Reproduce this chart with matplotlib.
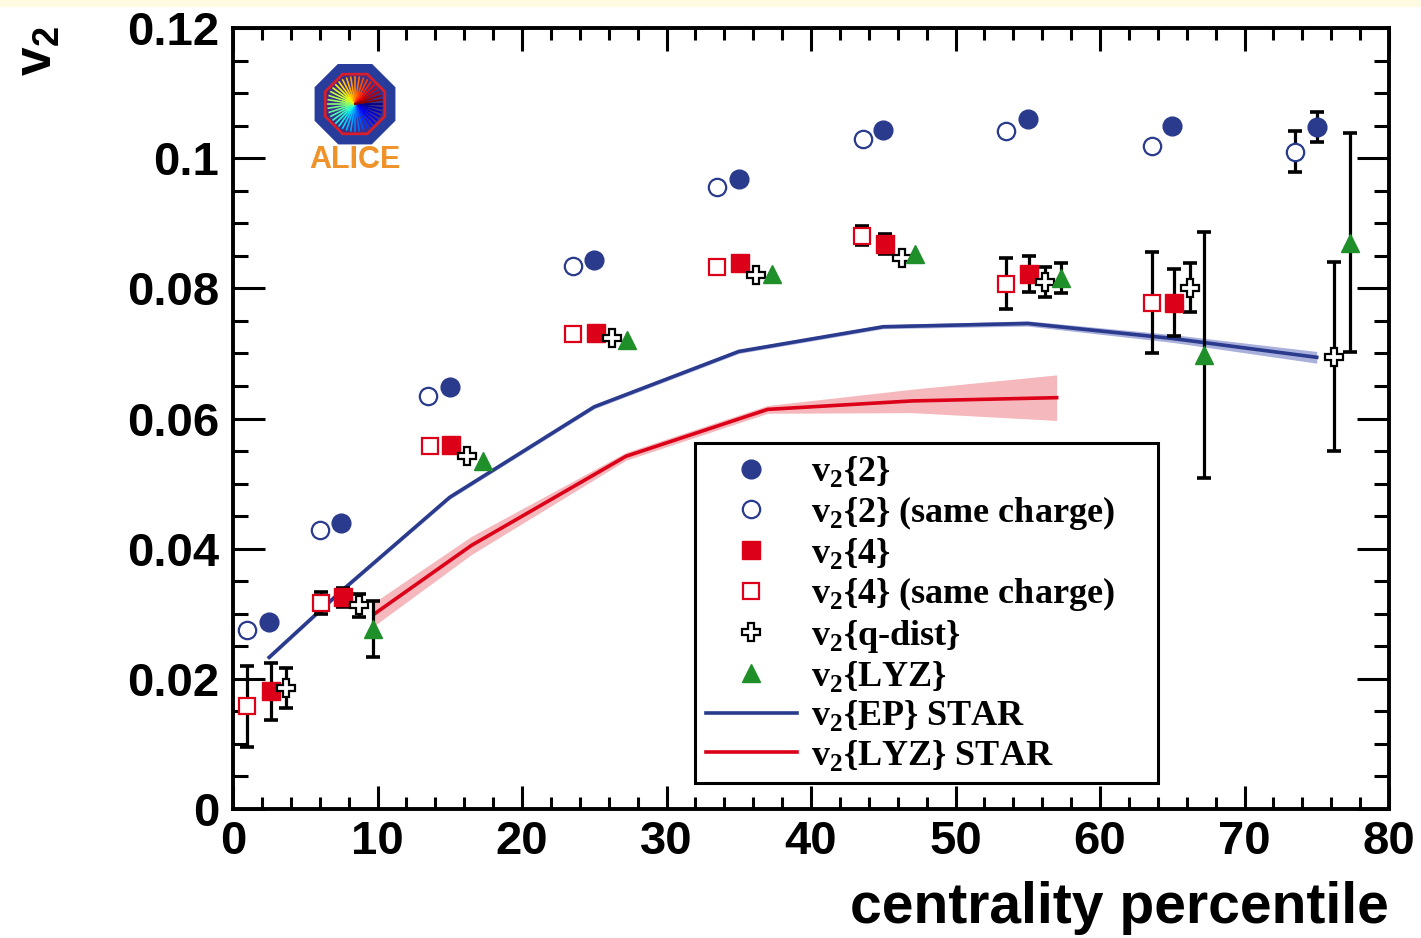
import numpy as np
import matplotlib
matplotlib.use('Agg')
import matplotlib.pyplot as plt
from matplotlib.lines import Line2D
from matplotlib.patches import RegularPolygon, Circle, Rectangle
from matplotlib.ticker import MultipleLocator, FuncFormatter

# v2{2}
cent_v2_2 = [2.5, 7.5, 15, 25, 35, 45, 55, 65, 75]
v2_2 = [0.0288, 0.0440, 0.0649, 0.0844, 0.0968, 0.1043, 0.1060, 0.1050, 0.1048]
v2_2_err = [0, 0, 0, 0, 0, 0, 0, 0, 0.0023]

# v2{2} same charge
cent_v2_2sc = [1.0, 6.0, 13.5, 23.5, 33.5, 43.6, 53.5, 63.6, 73.5]
v2_2sc = [0.0275, 0.0428, 0.0635, 0.0835, 0.0956, 0.1030, 0.1042, 0.1019, 0.1010]
v2_2sc_err = [0, 0, 0, 0, 0, 0, 0, 0, 0.0032]

# v2{4}
cent_v2_4 = [2.6, 7.6, 15.1, 25.1, 35.1, 45.1, 55.1, 65.1]
v2_4 = [0.0181, 0.0325, 0.0559, 0.0732, 0.0839, 0.0868, 0.0822, 0.0778]
v2_4_err = [0.0044, 0.0015, 0, 0, 0, 0.0015, 0.0027, 0.0052]

# v2{4} same charge
cent_v2_4sc = [1.0, 6.1, 13.6, 23.5, 33.5, 43.5, 53.5, 63.6]
v2_4sc = [0.0158, 0.0316, 0.0557, 0.0730, 0.0833, 0.0881, 0.0807, 0.0778]
v2_4sc_err = [0.0062, 0.0017, 0, 0, 0, 0.0015, 0.0039, 0.0078]

# v2{q-dist}
cent_qdist = [3.7, 8.7, 16.2, 26.2, 36.2, 46.3, 56.2, 66.2, 76.2]
v2_qdist = [0.0186, 0.0313, 0.0542, 0.0723, 0.0821, 0.0847, 0.0810, 0.0801, 0.0695]
v2_qdist_err = [0.0031, 0.0018, 0, 0, 0, 0, 0.0023, 0.0038, 0.0145]

# v2{LYZ}
cent_lyz = [9.7, 17.3, 27.3, 37.3, 47.2, 57.3, 67.2, 77.3]
v2_lyz = [0.0276, 0.0534, 0.0720, 0.0822, 0.0853, 0.0816, 0.0698, 0.0870]
v2_lyz_err = [0.0043, 0, 0, 0, 0, 0.0023, 0.0189, 0.0168]

# STAR curves
cent_star_ep = [2.5, 7.5, 15, 25, 35, 45, 55, 65, 75]
v2_star_ep = [0.0233, 0.0335, 0.0479, 0.0618, 0.0703, 0.0741, 0.0746, 0.0723, 0.0694]
v2_star_ep_err = [0.0003, 0.0003, 0.0003, 0.0003, 0.0003, 0.0003, 0.0004, 0.0006, 0.0009]

cent_star_lyz = [9.8, 16.5, 27.2, 37.0, 47.0, 57.0]
v2_star_lyz = [0.0300, 0.0405, 0.0542, 0.0614, 0.0627, 0.0632]
v2_star_lyz_err = [0.0018, 0.0014, 0.0006, 0.0006, 0.0018, 0.0035]

blue = '#2a3a8c'
red = '#dc0019'
green = '#1f8f2a'

sans = 'Liberation Sans'
serif = 'Liberation Serif'

fig = plt.figure(figsize=(14.21, 9.38), dpi=100)
fig.patches.append(Rectangle((0, 1 - 6 / 938), 1, 6 / 938, transform=fig.transFigure,
                             color='#fffbe3', zorder=0))
ax = fig.add_axes([233 / 1421, 1 - 809 / 938, (1389 - 233) / 1421, (809 - 28) / 938])

# STAR bands and lines
ax.fill_between(cent_star_ep, np.array(v2_star_ep) - v2_star_ep_err,
                np.array(v2_star_ep) + v2_star_ep_err, color='#aab0dc', lw=0, zorder=1)
ax.plot(cent_star_ep, v2_star_ep, color=blue, lw=2.6, zorder=2)
ax.fill_between(cent_star_lyz, np.array(v2_star_lyz) - v2_star_lyz_err,
                np.array(v2_star_lyz) + v2_star_lyz_err, color='#f5b8bd', lw=0, zorder=1)
ax.plot(cent_star_lyz, v2_star_lyz, color=red, lw=2.6, zorder=2)


def draw_points(x, y, err, **style):
    x = np.asarray(x)
    y = np.asarray(y)
    err = np.asarray(err)
    m = err > 0
    ax.errorbar(x[m], y[m], yerr=err[m], fmt='none', ecolor='k', elinewidth=2.3,
                capsize=5, capthick=2.6, zorder=3)
    ax.plot(x, y, ls='none', zorder=4, **style)


st_2 = dict(marker='o', ms=13.5, mfc=blue, mec=blue)
st_2sc = dict(marker='o', ms=12.5, mfc='white', mec=blue, mew=1.6)
st_4 = dict(marker='s', ms=12.5, mfc=red, mec=red)
st_4sc = dict(marker='s', ms=12, mfc='white', mec=red, mew=1.6)
st_q = dict(marker='P', ms=12.5, mfc='white', mec='k', mew=1.6)
st_lyz = dict(marker='^', ms=13, mfc=green, mec=green)

draw_points(cent_v2_2, v2_2, v2_2_err, **st_2)
draw_points(cent_v2_2sc, v2_2sc, v2_2sc_err, **st_2sc)
draw_points(cent_v2_4, v2_4, v2_4_err, **st_4)
draw_points(cent_v2_4sc, v2_4sc, v2_4sc_err, **st_4sc)
draw_points(cent_qdist, v2_qdist, v2_qdist_err, **st_q)
draw_points(cent_lyz, v2_lyz, v2_lyz_err, **st_lyz)

ax.set_xlim(0, 80)
ax.set_ylim(0, 0.12)
ax.xaxis.set_major_locator(MultipleLocator(10))
ax.xaxis.set_minor_locator(MultipleLocator(2))
ax.yaxis.set_major_locator(MultipleLocator(0.02))
ax.yaxis.set_minor_locator(MultipleLocator(0.005))
ax.yaxis.set_major_formatter(FuncFormatter(lambda v, p: '%g' % round(v, 3)))
ax.tick_params(which='both', direction='in', top=True, right=True, width=2.2)
ax.tick_params(axis='x', which='major', length=16.5, pad=8)
ax.tick_params(axis='x', which='minor', length=8.5)
ax.tick_params(axis='y', which='major', length=23, pad=10)
ax.tick_params(axis='y', which='minor', length=11)
for lab in ax.get_xticklabels() + ax.get_yticklabels():
    lab.set_fontfamily(sans)
    lab.set_fontweight('bold')
    lab.set_fontsize(34)
for s in ax.spines.values():
    s.set_linewidth(2.8)

ax.set_xlabel('centrality percentile', fontfamily=sans, fontweight='bold', fontsize=41,
              loc='right', labelpad=12)
fig.text(0.027, 0.972, r'v$_\mathregular{2}$', rotation=90, ha='center', va='top',
         fontfamily=sans, fontweight='bold', fontsize=37)

# legend
handles = [
    Line2D([], [], ls='none', **st_2),
    Line2D([], [], ls='none', **st_2sc),
    Line2D([], [], ls='none', **st_4),
    Line2D([], [], ls='none', **st_4sc),
    Line2D([], [], ls='none', **st_q),
    Line2D([], [], ls='none', **st_lyz),
    Line2D([], [], color=blue, lw=2.6),
    Line2D([], [], color=red, lw=2.6),
]
labels = [
    r'v$_\mathregular{2}${2}',
    r'v$_\mathregular{2}${2} (same charge)',
    r'v$_\mathregular{2}${4}',
    r'v$_\mathregular{2}${4} (same charge)',
    r'v$_\mathregular{2}${q-dist}',
    r'v$_\mathregular{2}${LYZ}',
    r'v$_\mathregular{2}${EP} STAR',
    r'v$_\mathregular{2}${LYZ} STAR',
]
leg = ax.legend(handles, labels, loc='upper left', bbox_to_anchor=(0.4, 0.468, 0.4, 0.0),
                mode='expand', borderaxespad=0, fancybox=False, framealpha=1,
                edgecolor='k', handlelength=2.5, handletextpad=0.4, labelspacing=0.12,
                borderpad=0.3, prop=dict(family=serif, weight='bold', size=26))
leg.get_frame().set_linewidth(2.2)
leg.set_zorder(5)

# ALICE logo
lax = fig.add_axes([298 / 1421, 1 - 178 / 938, 114 / 1421, 114 / 938])
lax.set_xlim(0, 114)
lax.set_ylim(114, 0)
lax.axis('off')
cx, cy = 57, 40
lax.add_patch(RegularPolygon((cx, cy), 8, radius=43, orientation=np.pi / 8, color='#283c9c'))
lax.add_patch(RegularPolygon((cx, cy), 8, radius=33, orientation=np.pi / 8, color='#d81e2a'))
lax.add_patch(RegularPolygon((cx, cy), 8, radius=30, orientation=np.pi / 8, color='#3b2f8a'))
ang = np.linspace(0, 2 * np.pi, 40, endpoint=False)
cols = plt.cm.jet(np.linspace(0, 1, len(ang)))
for a, c in zip(ang, cols):
    lax.plot([cx, cx + 27 * np.cos(a)], [cy, cy + 27 * np.sin(a)], color=c, lw=1.2)
lax.add_patch(Circle((cx, cy), 9, color='#f39a2e', alpha=0.9))
lax.text(cx, 96, 'ALICE', ha='center', va='center', fontfamily=sans, fontweight='bold',
         fontsize=22, color='#f0922a')

fig.savefig('out.png', dpi=100)
